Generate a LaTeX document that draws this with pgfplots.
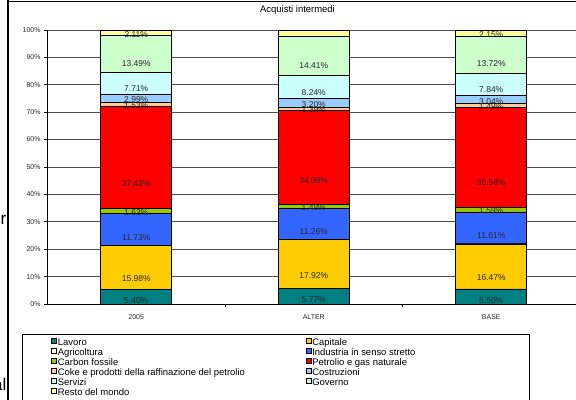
\documentclass[border=0pt]{standalone}
\usepackage{fontspec}
\setmainfont{Liberation Sans}
\usepackage{pgfplots}
\usepackage{pgfplotstable}
\pgfplotsset{compat=1.18}

\definecolor{cLav}{HTML}{008080}
\definecolor{cCap}{HTML}{FFCC00}
\definecolor{cAgr}{HTML}{FFFFCC}
\definecolor{cInd}{HTML}{3366FF}
\definecolor{cCar}{HTML}{99CC00}
\definecolor{cPet}{HTML}{FF0000}
\definecolor{cCok}{HTML}{FFCC99}
\definecolor{cCos}{HTML}{99CCFF}
\definecolor{cSer}{HTML}{CCFFFF}
\definecolor{cGov}{HTML}{CCFFCC}
\definecolor{cRes}{HTML}{FFFF99}

\pgfplotstableread{
x Lav Cap Agr Ind Car Pet Cok Cos Ser Gov Res
0 5.40 15.98 0.01 11.73 1.63 37.42 1.53 2.99 7.71 13.49 2.11
1 5.77 17.92 0.01 11.26 1.48 34.08 1.39 3.20 8.24 14.41 2.25
2 5.50 16.47 0.01 11.61 1.59 36.58 1.49 3.04 7.84 13.72 2.15
}\data

\newcommand{\ser}[2]{%
  \addplot[fill=#2, draw=black, line width=0.6bp,
    legend image code/.code={\draw[fill=#2, draw=black, line width=0.5bp] (0bp,0bp) rectangle (5bp,5bp);},
    nodes near coords={\pgfmathprintnumber[fixed,fixed zerofill,precision=2,assume math mode=true]{\rawv}\%},
    visualization depends on={\thisrow{#1}\as\rawv},
    every node near coord/.append style={anchor=center, yshift={-0.685bp*\rawv}, font=\fontsize{8.5}{9}\selectfont, text=black!85, inner sep=0pt}]
    table[x=x,y=#1]{\data};}

\begin{document}
\begin{tikzpicture}
\useasboundingbox (0,0) rectangle (576bp,400bp);
\clip (0,0) rectangle (576bp,400bp);
\begin{axis}[
  at={(47.5bp,96bp)}, anchor=south west,
  scale only axis, width=532.5bp, height=274bp,
  xmin=-0.5, xmax=2.5, ymin=0, ymax=100,
  ybar stacked, bar width=71bp,
  axis x line*=bottom, axis y line*=left,
  axis line style={black, line width=0.8bp},
  xtick={0,1,2}, xticklabels={2005,ALTER,BASE},
  minor xtick={0.5,1.5},
  ytick={0,10,...,100},
  yticklabels={0\%,10\%,20\%,30\%,40\%,50\%,60\%,70\%,80\%,90\%,100\%},
  minor ytick={0,10,...,100},
  major tick length=0pt, minor tick length=3bp,
  tick align=outside,
  tick style={black, line width=0.6bp},
  ymajorgrids, major grid style={black!70, line width=0.7bp},
  ticklabel style={font=\fontsize{7}{8}\selectfont, text=black!85},
  yticklabel style={xshift=-3.5bp},
  xticklabel style={yshift=-7.5bp},
  title={Acquisti intermedi},
  title style={at={(0.4695,1)}, anchor=center, yshift=14bp, font=\fontsize{9.5}{10}\selectfont},
  legend columns=2,
  legend style={at={(-0.0479,-0.1095)}, anchor=north west, draw=black, line width=0.7bp,
    font=\fontsize{9.5}{10}\selectfont, inner xsep=29bp, inner ysep=3.5bp,
    row sep=1bp, column sep=0pt,
    nodes={inner xsep=1bp, inner ysep=0pt, text height=6bp, text depth=1.5bp}},
]
\ser{Lav}{cLav}
\addlegendentry{\makebox[247bp][l]{Lavoro}}
\ser{Cap}{cCap}
\addlegendentry{\makebox[187bp][l]{Capitale}}
\addplot[fill=cAgr, draw=black, line width=0.6bp,
    legend image code/.code={\draw[fill=cAgr, draw=black, line width=0.5bp] (0bp,0bp) rectangle (5bp,5bp);}]
    table[x=x,y=Agr]{\data};
\addlegendentry{\makebox[247bp][l]{Agricoltura}}
\ser{Ind}{cInd}
\addlegendentry{\makebox[187bp][l]{Industria in senso stretto}}
\ser{Car}{cCar}
\addlegendentry{\makebox[247bp][l]{Carbon fossile}}
\ser{Pet}{cPet}
\addlegendentry{\makebox[187bp][l]{Petrolio e gas naturale}}
\ser{Cok}{cCok}
\addlegendentry{\makebox[247bp][l]{Coke e prodotti della raffinazione del petrolio}}
\ser{Cos}{cCos}
\addlegendentry{\makebox[187bp][l]{Costruzioni}}
\ser{Ser}{cSer}
\addlegendentry{\makebox[247bp][l]{Servizi}}
\ser{Gov}{cGov}
\addlegendentry{\makebox[187bp][l]{Governo}}
\ser{Res}{cRes}
\addlegendentry{\makebox[247bp][l]{Resto del mondo}}
\end{axis}
\draw[black, line width=1.6bp] (8bp,0bp) -- (8bp,400bp);
\draw[black, line width=1bp] (8bp,398bp) -- (576bp,398bp);
\node[anchor=base east, inner sep=0pt, font=\fontsize{17}{17}\selectfont] at (6.5bp,175bp) {r};
\node[anchor=base east, inner sep=0pt, font=\fontsize{17}{17}\selectfont] at (6.5bp,10bp) {al};
\end{tikzpicture}
\end{document}
